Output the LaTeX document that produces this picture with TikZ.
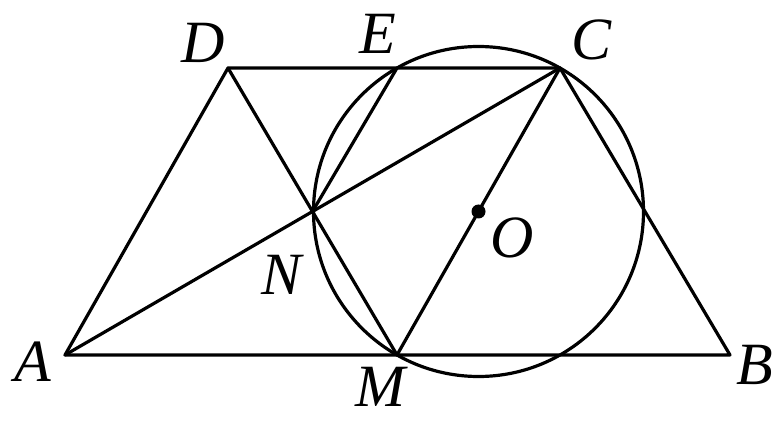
\documentclass[tikz,border=0pt]{standalone}
\usepackage{fontspec}
\setmainfont{Liberation Serif}
\begin{document}
\begin{tikzpicture}[x=1pt,y=-1pt,
  edge/.style={line width=3.2pt,line join=round,line cap=round},
  lbl/.style={font=\fontsize{60}{60}\selectfont\itshape,inner sep=0pt}]
\useasboundingbox (0,0) rectangle (777,422);
\coordinate (A) at (65,355);
\coordinate (B) at (730,355);
\coordinate (D) at (228,68);
\coordinate (C) at (560,68);
\coordinate (E) at (397,68);
\coordinate (M) at (397,355);
\coordinate (N) at (312.5,211.5);
\coordinate (O) at (478.5,211.5);
\draw[edge] (A) -- (B) -- (C) -- (D) -- cycle;
\draw[edge] (A) -- (C);
\draw[edge] (D) -- (M);
\draw[edge] (C) -- (M);
\draw[edge] (E) -- (N);
\draw[edge] (O) circle[radius=165];
\fill (O) circle[radius=7];
\node[lbl] (lA) at (33,362) {A};
\node[lbl] (lB) at (755,365) {B};
\node[lbl] (lC) at (592,40) {C};
\node[lbl] (lD) at (203,43) {D};
\node[lbl] (lE) at (378,34) {E};
\node[lbl] (lM) at (380,387) {M};
\node[lbl] (lN) at (282,275) {N};
\node[lbl] (lO) at (512,238) {O};
\end{tikzpicture}
\end{document}
